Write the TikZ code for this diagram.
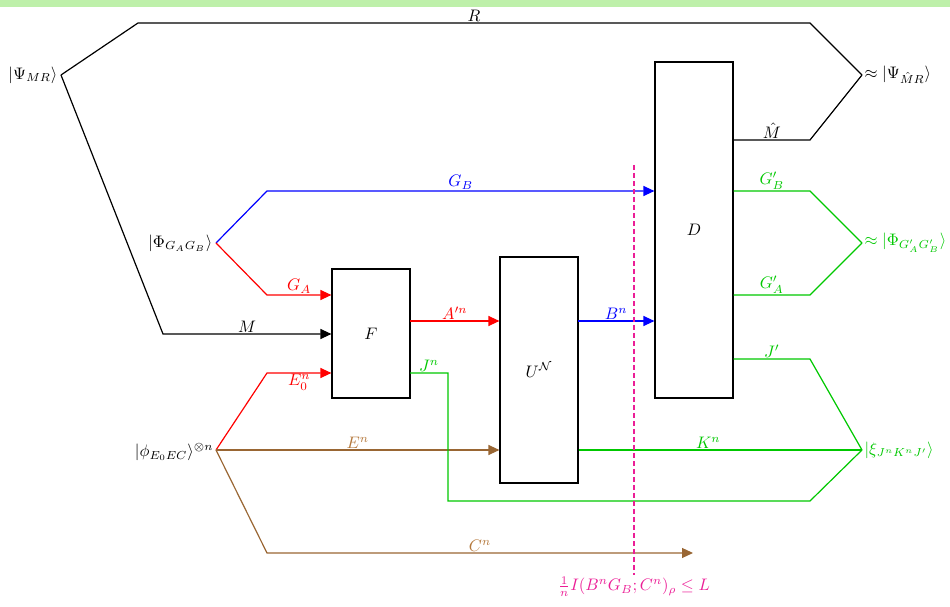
\documentclass[tikz,border=0pt]{standalone}
\usetikzlibrary{arrows.meta}
\definecolor{topband}{RGB}{190,240,170}
\definecolor{mybrown}{RGB}{153,102,51}
\definecolor{mybrownt}{RGB}{180,120,60}
\definecolor{mygreen}{RGB}{0,200,0}
\definecolor{mypink}{RGB}{235,30,150}
\begin{document}
\begin{tikzpicture}[x=0.6pt,y=-0.6pt, line width=0.72pt,
  box/.style={draw=black, line width=0.7pt, minimum width=46.8pt, minimum height=#1, inner sep=0pt},
  arr/.style={-{Triangle[length=6.6pt,width=6pt]}},
  lab/.style={inner sep=0.6pt, anchor=south},
  ket/.style={inner sep=1.8pt}]
\useasboundingbox (0,0) rectangle (950,607);
\fill[topband] (0,0) rectangle (950,7);

% boxes
\node[box=77.4pt] (F) at (371,333.5) {$F$};
\node[box=135.6pt] (U) at (539,370) {$U^{\mathcal N}$};
\node[box=201.6pt] (D) at (694,230) {$D$};

% vertices
\coordinate (psiV) at (61,75);
\coordinate (phiV) at (216,243);
\coordinate (eV) at (216,450);
\coordinate (oPsi) at (862,75);
\coordinate (oPhi) at (862,243);
\coordinate (oXi) at (862,450);

% kets
\node[ket, anchor=east] (psiL) at (psiV) {$|\Psi_{MR}\rangle$};
\node[ket, anchor=east] (phiL) at (phiV) {$|\Phi_{G_AG_B}\rangle$};
\node[ket, anchor=east, inner sep=1.2pt] (eL) at ([yshift=-1.2pt]eV) {$|\phi_{E_0EC}\rangle^{\otimes n}$};
\node[ket, anchor=west, inner sep=1.2pt] (oPsiL) at (oPsi) {$\approx|\Psi_{\hat M R}\rangle$};
\node[ket, anchor=west, inner sep=1.2pt, text=mygreen] (oPhiL) at (oPhi) {$\approx|\Phi_{G'_AG'_B}\rangle$};
\node[ket, anchor=west, inner sep=1.2pt, text=mygreen] (oXiL) at (oXi) {$|\xi_{J^nK^nJ'}\rangle$};

% R wire
\coordinate (r1) at (138,23);
\coordinate (r2) at (810,23);
\draw (psiV) -- (r1) -- node[lab] (Rl) {$R$} (r2) -- (oPsi);
% M hat
\coordinate (mh) at (810,140);
\draw (D.east |- mh) -- node[lab] (Mhl) {$\hat M$} (mh) -- (oPsi);
% M wire
\coordinate (m1) at (163,334);
\draw[arr] (psiV) -- (m1) -- node[lab] (Ml) {$M$} (m1 -| F.west);

% G_B
\coordinate (gb1) at (267,191);
\draw[arr, blue] (phiV) -- (gb1) -- node[lab, text=blue] (GBl) {$G_B$} (gb1 -| D.west);
% G_A
\coordinate (ga1) at (267,295);
\draw[arr, red] (phiV) -- (ga1) -- node[lab, text=red] (GAl) {$G_A$} (ga1 -| F.west);

% E0
\coordinate (e01) at (267,373);
\draw[arr, red] (eV) -- (e01) -- node[lab, anchor=north, text=red] (E0l) {$E_0^n$} (e01 -| F.west);
% E^n
\draw[arr, mybrown] (eV) -- node[lab, text=mybrownt] (Enl) {$E^n$} (eV -| U.west);
% C^n
\coordinate (c1) at (267,553);
\coordinate (c2) at (693,553);
\draw[arr, mybrown] (eV) -- (c1) -- node[lab, text=mybrownt] (Cnl) {$C^n$} (c2);

% A'^n
\coordinate (a1) at (410,321);
\draw[arr, red] (a1) -- node[lab, text=red] (Anl) {$A'^n$} (a1 -| U.west);
% B^n
\coordinate (b1) at (578,321);
\draw[arr, blue] (b1) -- node[lab, text=blue] (Bnl) {$B^n$} (b1 -| D.west);

% J^n
\coordinate (j0) at (410,373);
\coordinate (j1) at (448,373);
\coordinate (j2) at (448,501);
\coordinate (j3) at (810,501);
\draw[mygreen] (j0) -- node[lab, text=mygreen] (Jnl) {$J^n$} (j1) -- (j2) -- (j3) -- (oXi);
% K^n
\draw[mygreen] (U.east |- oXi) -- node[lab, text=mygreen, xshift=-7.2pt] (Knl) {$K^n$} (oXi);
% J'
\coordinate (jp) at (810,359);
\draw[mygreen] (D.east |- jp) -- node[lab, text=mygreen] (Jpl) {$J'$} (jp) -- (oXi);
% G'_B, G'_A
\coordinate (gpb) at (810,191);
\coordinate (gpa) at (810,295);
\draw[mygreen] (D.east |- gpb) -- node[lab, text=mygreen] (GpBl) {$G'_B$} (gpb) -- (oPhi);
\draw[mygreen] (D.east |- gpa) -- node[lab, text=mygreen] (GpAl) {$G'_A$} (gpa) -- (oPhi);

% cut
\coordinate (cutT) at (634,165);
\coordinate (cutB) at (634,575);
\draw[mypink, line width=0.8pt, dash pattern=on 3pt off 1.8pt] (cutT) -- (cutB);
\node[anchor=north, text=mypink, inner sep=0.6pt] (cutL) at (cutB) {$\frac{1}{n}I(B^nG_B;C^n)_\rho\le L$};
\end{tikzpicture}
\end{document}
